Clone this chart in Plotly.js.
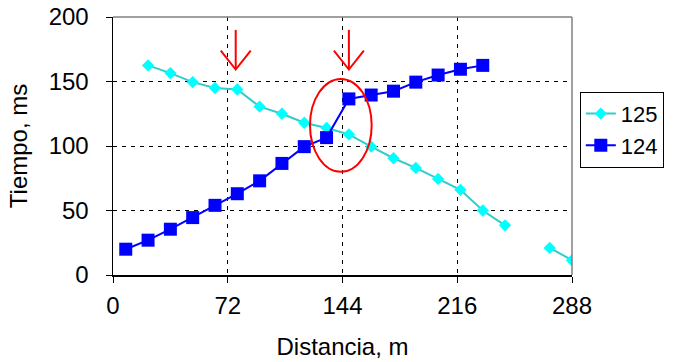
<!DOCTYPE html>
<html><head><meta charset="utf-8">
<script src="https://cdn.plot.ly/plotly-3.0.1.min.js"></script>
<style>html,body{margin:0;padding:0;background:#fff;}#chart{width:680px;height:362px;}</style>
</head><body><div id="chart"></div>
<script>
// Series 125 (cyan diamonds)
var dist125 = [22, 36, 50, 64, 78, 92, 106, 120, 134, 148, 162, 176, 190, 204, 218, 232, 246, null, 274, 288];
var time125 = [162.5, 156.5, 149.5, 145, 143.8, 130.5, 125, 118, 114, 109, 99.5, 90.5, 83, 74.5, 66, 50, 38.5, null, 21, 11.5];
// Series 124 (blue squares)
var dist124 = [8, 22, 36, 50, 64, 78, 92, 106, 120, 134, 148, 162, 176, 190, 204, 218, 232];
var time124 = [20, 27, 35.5, 44.5, 54, 63, 73, 86.5, 99.5, 106.5, 136.5, 139.5, 142.5, 149.5, 155, 159.5, 162.5];
var xTicks = [0, 72, 144, 216, 288];
var yTicks = [0, 50, 100, 150, 200];
var seriesNames = ["125", "124"];
// annotation positions (distance values)
var arrowX = [77, 148];

var font = "Liberation Sans, Arial, sans-serif";
var traces = [
  {x: dist125, y: time125, name: seriesNames[0], legendgroup: "a", type: "scatter", mode: "lines+markers",
   connectgaps: false,
   line: {color: "#33CCCC", width: 2},
   marker: {symbol: "diamond", size: 9.5, color: "#00FFFF", line: {width: 0}}},
  {x: dist124, y: time124, name: seriesNames[1], legendgroup: "b", type: "scatter", mode: "lines+markers",
   line: {color: "#0000FF", width: 2},
   marker: {symbol: "square", size: 13, color: "#0000FF", line: {width: 0}}}
];

var shapes = [
  {type: "line", xref: "paper", yref: "paper", x0: 0, x1: 1, y0: 1, y1: 1, line: {color: "#808080", width: 1.5}},
  {type: "line", xref: "paper", yref: "paper", x0: 1, x1: 1, y0: 0, y1: 1, line: {color: "#808080", width: 1.5}},
  {type: "circle", xref: "x", yref: "y", x0: 123.6, x1: 162.3, y0: 80, y1: 152, line: {color: "#FF0000", width: 2}}
];
arrowX.forEach(function (ax) {
  shapes.push({type: "line", xref: "x", yref: "y", x0: ax, x1: ax, y0: 190, y1: 159.5, line: {color: "#FF0000", width: 2}});
  shapes.push({type: "path", xref: "x", yref: "y",
    path: "M " + (ax - 9.4) + " 174 L " + ax + " 159.3 L " + (ax + 9.4) + " 174",
    line: {color: "#FF0000", width: 2}});
});

var layout = {
  width: 680, height: 362,
  margin: {l: 113, r: 108, t: 17, b: 87, autoexpand: false},
  paper_bgcolor: "#fff", plot_bgcolor: "#fff",
  font: {family: font, size: 24, color: "#000"},
  showlegend: true,
  legend: {x: 1.017, xanchor: "left", y: 0.71, yanchor: "top",
    bordercolor: "#000", borderwidth: 1, bgcolor: "#fff",
    font: {family: font, size: 22}, traceorder: "grouped", tracegroupgap: 0},
  xaxis: {range: [0, 288], tickvals: xTicks, ticktext: xTicks.map(String),
    showgrid: true, gridcolor: "#000", gridwidth: 1, griddash: "4px,5px",
    showline: true, linecolor: "#000", linewidth: 1.5,
    ticks: "outside", ticklen: 6, tickcolor: "#000", ticklabelstandoff: 3,
    tickfont: {family: font, size: 24},
    zeroline: false,
    title: {text: "Distancia, m", font: {family: font, size: 24}, standoff: 20}},
  yaxis: {range: [0, 200], tickvals: yTicks, ticktext: yTicks.map(String),
    showgrid: true, gridcolor: "#000", gridwidth: 1, griddash: "4px,5px",
    showline: true, linecolor: "#000", linewidth: 1.5,
    ticks: "outside", ticklen: 6, tickcolor: "#000", ticklabelstandoff: 12,
    tickfont: {family: font, size: 24},
    zeroline: false,
    title: {text: "Tiempo, ms", font: {family: font, size: 24}, standoff: 14}},
  shapes: shapes
};
Plotly.newPlot("chart", traces, layout, {staticPlot: true});
</script></body></html>
